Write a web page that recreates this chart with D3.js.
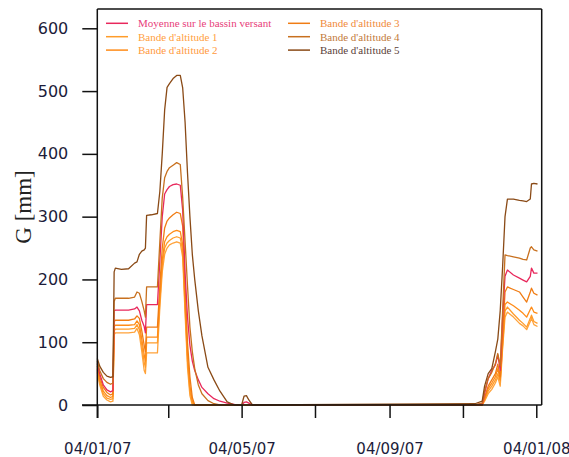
<!DOCTYPE html>
<html><head><meta charset="utf-8">
<script src="https://cdn.jsdelivr.net/npm/d3@7"></script>
<style>body{margin:0;background:#fff}svg{display:block}</style>
</head><body>
<svg id="c" width="569" height="457"></svg>
<script>
// ---- data ----
const dates = ["2007-01-04","2007-01-06","2007-01-09","2007-01-12","2007-01-15","2007-01-17","2007-01-18","2007-01-19","2007-01-24","2007-01-30",
"2007-02-04","2007-02-06","2007-02-08","2007-02-10","2007-02-12","2007-02-13","2007-02-14","2007-02-18","2007-02-23","2007-02-25","2007-02-27",
"2007-03-01","2007-03-03","2007-03-05","2007-03-08","2007-03-11","2007-03-14","2007-03-16","2007-03-18","2007-03-20","2007-03-22","2007-03-24","2007-03-26","2007-03-29",
"2007-04-01","2007-04-06","2007-04-11","2007-04-16","2007-04-22","2007-04-28","2007-05-04","2007-05-06","2007-05-08","2007-05-10","2007-05-13",
"2007-11-14","2007-11-20","2007-11-22","2007-11-25","2007-11-28","2007-12-01","2007-12-03","2007-12-05","2007-12-07","2007-12-09","2007-12-11",
"2007-12-16","2007-12-21","2007-12-24","2007-12-27","2007-12-30","2007-12-31","2008-01-02","2008-01-05"];

const bande5 = [74,62,52,46,44,45,212,218,216,217, 226,228,240,245,247,250,302,303,305,340,400,
 470,506,512,520,525,525,505,450,370,300,240,200,150, 110,60,40,22,5,0,0,14,15,8,0,
 2,6,30,50,58,85,105,150,220,300,328, 328,326,325,324,328,352,353,352];
const bande4 = [70,55,42,36,33,35,165,170,170,170, 172,180,178,165,150,140,188,188,188,260,330,
 362,372,378,382,386,383,330,260,190,124,85,58,32, 18,7,2,0,0,0,0,0,0,0,0,
 0,3,22,42,52,66,82,62,150,239,238, 236,234,232,231,250,252,247,245];
const moyenne = [66,50,32,24,21,23,150,151,151,151, 153,156,150,135,125,115,160,160,160,230,300,
 336,343,348,351,352,350,310,210,140,95,70,55,40, 28,18,10,6,3,1,0,4,5,3,0,
 0,2,18,42,55,64,80,55,140,205,215, 207,202,199,196,205,218,210,210];
const bande3 = [62,45,28,20,16,18,133,135,135,135, 137,142,138,118,95,85,124,124,124,190,250,
 282,293,298,303,307,305,285,190,100,45,12,0,0, 0,0,0,0,0,0,0,0,0,0,0,
 0,0,12,30,40,50,65,45,110,180,188, 184,180,172,164,180,186,178,175];
const bande2 = [58,40,22,15,12,14,125,127,127,127, 128,134,128,105,80,70,108,108,108,175,230,
 260,268,272,276,278,276,255,165,80,30,6,0,0, 0,0,0,0,0,0,0,0,0,0,0,
 0,0,10,26,35,45,58,40,100,160,164, 158,151,146,140,152,156,148,146];
const bande1 = [55,36,18,11,9,10,118,121,121,121, 122,128,120,95,68,60,99,99,99,165,222,
 250,258,262,266,268,266,245,155,70,22,3,0,0, 0,0,0,0,0,0,0,0,0,0,0,
 0,0,8,22,30,40,50,38,95,150,156, 145,135,130,124,138,143,133,130];
const bandeBasse = [52,32,14,8,5,6,112,115,115,115, 116,122,112,85,55,50,83,83,83,155,212,
 240,250,255,258,260,258,235,145,60,15,0,0,0, 0,0,0,0,0,0,0,0,0,0,0,
 0,0,6,18,25,35,45,30,90,140,148, 140,130,126,120,133,138,128,125];

const seriesNames = ["Moyenne sur le bassin versant","Bande d'altitude 1","Bande d'altitude 2","Bande d'altitude 3","Bande d'altitude 4","Bande d'altitude 5"];
const tickDates = ["2007-01-04","2007-03-04","2007-05-04","2007-07-04","2007-09-04","2007-11-04","2008-01-04"];
const tickLabels = ["04/01/07","","04/05/07","","04/09/07","","04/01/08"];
const yTicks = [0,100,200,300,400,500,600];
const yLabel = "G [mm]";

// ---- drawing ----
const parse = d3.timeParse("%Y-%m-%d");
const svg = d3.select("#c");
const x = d3.scaleTime().domain([parse("2007-01-04"), new Date(2008,0,8,12)]).range([97.3, 541.7]);
const y = d3.scaleLinear().domain([0, 600]).range([405, 28.3]);
const X0 = 97.3, X1 = 541.7, Ytop = 9, Ybot = 405;

const lineColors = ["#e8285c","#ff9c2a","#ff8c18","#f07c14","#c8701e","#8a4a16"];
const textColors = ["#e8407a","#ffa040","#ff9a40","#f08a3a","#c27a3a","#5a4038"];

const seriesData = [bandeBasse, bande1, bande2, bande3, moyenne, bande4, bande5];
const seriesColor = ["#ffa23a", lineColors[1], lineColors[2], lineColors[3], lineColors[0], lineColors[4], lineColors[5]];
const line = d3.line().x((d,i)=>x(parse(dates[i]))).y(d=>y(d));
const g = svg.append("g");
seriesData.forEach((s,k)=>{
  g.append("path").attr("d", line(s)).attr("fill","none")
   .attr("stroke", seriesColor[k]).attr("stroke-width",1.3).attr("stroke-linejoin","round");
});

// frame
svg.append("line").attr("x1",X0).attr("x2",X0).attr("y1",Ytop).attr("y2",418).attr("stroke","#111").attr("stroke-width",1.5);
svg.append("line").attr("x1",82).attr("x2",X1).attr("y1",Ybot).attr("y2",Ybot).attr("stroke","#111").attr("stroke-width",1.5);
svg.append("line").attr("x1",X0).attr("x2",X1).attr("y1",Ytop).attr("y2",Ytop).attr("stroke","#111").attr("stroke-width",1.5);
svg.append("line").attr("x1",X1).attr("x2",X1).attr("y1",Ytop).attr("y2",Ybot).attr("stroke","#111").attr("stroke-width",1.5);

// axes
const yAx = svg.append("g").attr("transform",`translate(${X0},0)`)
  .call(d3.axisLeft(y).tickValues(yTicks).tickSize(15).tickPadding(14));
yAx.select(".domain").remove();
yAx.selectAll("line").attr("stroke","#111").attr("stroke-width",1.5);
yAx.selectAll("text").attr("font-family","DejaVu Sans").attr("font-size",16).attr("fill","#1c1c3a");

const xAx = svg.append("g").attr("transform",`translate(0,${Ybot})`)
  .call(d3.axisBottom(x).tickValues(tickDates.map(parse)).tickSize(13).tickPadding(25)
    .tickFormat((d,i)=>tickLabels[i]));
xAx.select(".domain").remove();
xAx.selectAll("line").attr("stroke","#111").attr("stroke-width",1.5);
xAx.selectAll("text").attr("font-family","DejaVu Sans").attr("font-size",15).attr("fill","#1c1c3a");

svg.append("text").attr("transform","translate(31,207) rotate(-90)").attr("text-anchor","middle")
  .attr("font-family","Liberation Serif").attr("font-size",23).attr("fill","#222").text(yLabel);

// legend
const leg = svg.append("g");
seriesNames.forEach((n,i)=>{
  const col = i<3 ? 0 : 1;
  const row = i % 3;
  const lx = col===0 ? 106 : 288;
  const ly = 23.3 + row*13.4;
  leg.append("line").attr("x1",lx).attr("x2",lx+22).attr("y1",ly).attr("y2",ly)
    .attr("stroke",lineColors[i]).attr("stroke-width",1.5);
  leg.append("text").attr("x",lx+32).attr("y",ly+3.8).attr("font-family","Liberation Serif")
    .attr("font-size",11).attr("fill",textColors[i]).text(n);
});
</script>
</body></html>
